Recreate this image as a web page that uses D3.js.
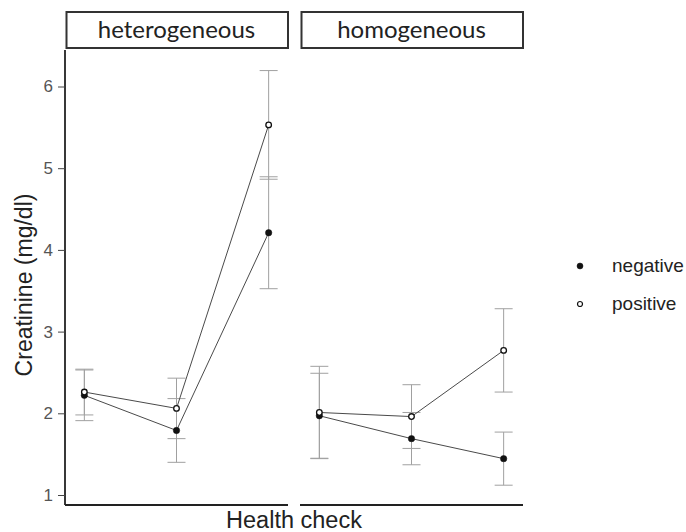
<!DOCTYPE html>
<html>
<head>
<meta charset="utf-8">
<script src="https://cdn.jsdelivr.net/npm/d3@7"></script>
<style>
  body { margin: 0; background: #fff; }
</style>
</head>
<body>
<div class="chart"></div>
<script>
// data
const panels = ["heterogeneous", "homogeneous"];
const checks = [1, 2, 3];
const groups = ["negative", "positive"];

const het_negative = [2.22, 1.79, 4.21];
const het_negative_err = [0.31, 0.39, 0.685];
const het_positive = [2.26, 2.06, 5.53];
const het_positive_err = [0.28, 0.37, 0.665];

const hom_negative = [1.97, 1.69, 1.445];
const hom_negative_err = [0.52, 0.32, 0.325];
const hom_positive = [2.01, 1.96, 2.77];
const hom_positive_err = [0.565, 0.39, 0.51];

const y_ticks = [1, 2, 3, 4, 5, 6];

const dims = { width: 686, height: 532 };
const panel_left = [65, 300];
const panel_w = 223;
const plot_top = 50, plot_bottom = 505;

const series = {
  heterogeneous: {
    negative: { mean: het_negative, err: het_negative_err },
    positive: { mean: het_positive, err: het_positive_err }
  },
  homogeneous: {
    negative: { mean: hom_negative, err: hom_negative_err },
    positive: { mean: hom_positive, err: hom_positive_err }
  }
};

var svg = d3.select(".chart")
  .append("svg")
  .attr("width", dims.width)
  .attr("height", dims.height);

var y = d3.scaleLinear().domain([1, 6]).range([495, 86.5]);
var x = d3.scaleLinear().domain([0.79, 3.21]).range([0, panel_w]);

const bar_color = "#a0a0a0";
const line_color = "#4a4a4a";
const sans = "'Liberation Sans', Arial, sans-serif";

panels.forEach(function(p, pi) {
  var g = svg.append("g").attr("transform", `translate(${panel_left[pi]},0)`);

  // strip
  g.append("rect")
    .attr("x", 1.5).attr("y", 12)
    .attr("width", panel_w - 1.5).attr("height", 36)
    .attr("fill", "#fff")
    .attr("stroke", "#333").attr("stroke-width", 2);
  g.append("text")
    .attr("x", panel_w / 2).attr("y", 38)
    .attr("text-anchor", "middle")
    .attr("font-family", "Lato, 'Open Sans', sans-serif")
    .attr("font-size", 24)
    .style("fill", "#222")
    .text(p);

  // bottom axis line
  g.append("line")
    .attr("x1", 0).attr("x2", panel_w)
    .attr("y1", plot_bottom).attr("y2", plot_bottom)
    .attr("stroke", "#222").attr("stroke-width", 1.8);

  groups.forEach(function(grp) {
    var s = series[p][grp];
    var pts = checks.map((c, i) => ({ c: c, m: s.mean[i], e: s.err[i] }));

    // error bars
    var eb = g.append("g").attr("class", "errbars " + grp);
    eb.selectAll(".v").data(pts).enter().append("line")
      .attr("x1", d => x(d.c)).attr("x2", d => x(d.c))
      .attr("y1", d => y(d.m - d.e)).attr("y2", d => y(d.m + d.e))
      .attr("stroke", bar_color).attr("stroke-width", 1);
    ["lo", "hi"].forEach(function(k) {
      eb.selectAll(".cap" + k).data(pts).enter().append("line")
        .attr("x1", d => x(d.c) - 9).attr("x2", d => x(d.c) + 9)
        .attr("y1", d => y(k == "lo" ? d.m - d.e : d.m + d.e))
        .attr("y2", d => y(k == "lo" ? d.m - d.e : d.m + d.e))
        .attr("stroke", bar_color).attr("stroke-width", 1);
    });
  });

  groups.forEach(function(grp) {
    var s = series[p][grp];
    var pts = checks.map((c, i) => ({ c: c, m: s.mean[i] }));
    g.append("path")
      .datum(pts)
      .attr("fill", "none")
      .attr("stroke", line_color).attr("stroke-width", 1)
      .attr("d", d3.line().x(d => x(d.c)).y(d => y(d.m)));
  });

  groups.forEach(function(grp) {
    var s = series[p][grp];
    var pts = checks.map((c, i) => ({ c: c, m: s.mean[i] }));
    g.selectAll(".pt" + grp).data(pts).enter().append("circle")
      .attr("cx", d => x(d.c)).attr("cy", d => y(d.m))
      .attr("r", grp == "negative" ? 3.2 : 2.8)
      .attr("fill", grp == "negative" ? "#111" : "#fff")
      .attr("stroke", "#111").attr("stroke-width", grp == "negative" ? 0.5 : 1.3);
  });
});

// y axis
var y_axis = svg.append("g").attr("transform", `translate(${panel_left[0]},0)`);
y_axis.call(d3.axisLeft(y).tickValues(y_ticks).tickSize(7).tickFormat(d3.format("d")));
y_axis.select(".domain")
  .attr("d", `M0,${plot_top}V${plot_bottom}`)
  .attr("stroke", "#222").attr("stroke-width", 1.8);
y_axis.selectAll(".tick line").attr("stroke", "#444");
y_axis.selectAll(".tick text")
  .attr("font-size", 17).attr("font-family", sans)
  .attr("x", -12)
  .style("fill", "#555");

svg.append("text")
  .attr("transform", `translate(32,285) rotate(-90)`)
  .attr("text-anchor", "middle")
  .attr("font-family", sans)
  .attr("font-size", 23)
  .style("fill", "#222")
  .text("Creatinine (mg/dl)");

svg.append("text")
  .attr("x", 294).attr("y", 528)
  .attr("text-anchor", "middle")
  .attr("font-family", sans)
  .attr("font-size", 23.5)
  .style("fill", "#222")
  .text("Health check");

// legend
var legend = svg.append("g").attr("transform", "translate(580,266)");
groups.forEach(function(grp, i) {
  var row = legend.append("g").attr("transform", `translate(0,${i * 38})`);
  row.append("circle")
    .attr("r", grp == "negative" ? 3 : 2.5)
    .attr("fill", grp == "negative" ? "#111" : "#fff")
    .attr("stroke", "#111").attr("stroke-width", grp == "negative" ? 0.5 : 1.2);
  row.append("text")
    .attr("x", 32).attr("y", 6)
    .attr("font-family", sans)
    .attr("font-size", 19)
    .style("fill", "#222")
    .text(grp);
});
</script>
</body>
</html>
